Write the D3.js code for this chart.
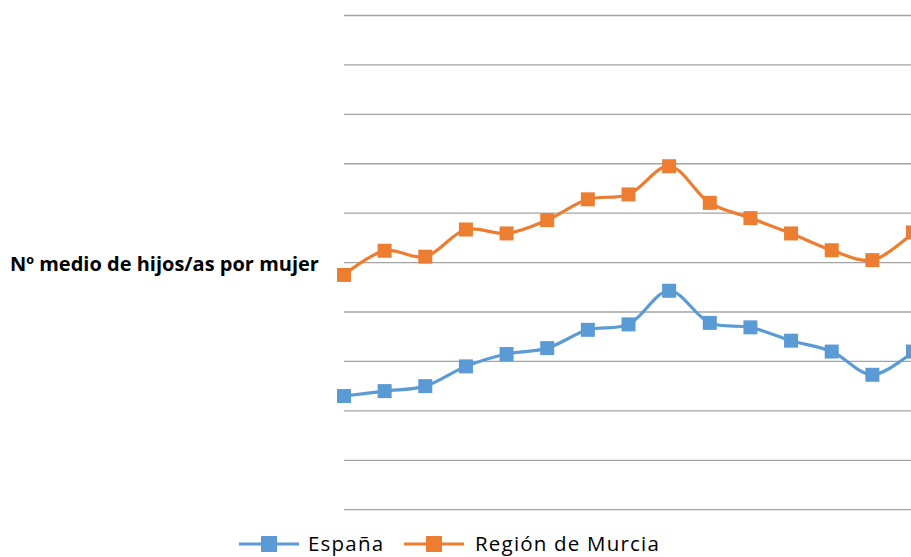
<!DOCTYPE html>
<html>
<head>
<meta charset="utf-8">
<script src="https://cdn.jsdelivr.net/npm/d3@7"></script>
<style>
  body { margin: 0; background: #fff; }
  text { font-family: "Open Sans", "Liberation Sans", sans-serif; }
</style>
</head>
<body>
<div class="chart"></div>
<script>
// years (not shown on the chart, axis labels are hidden)
const years = [2000, 2001, 2002, 2003, 2004, 2005, 2006, 2007, 2008, 2009, 2010, 2011, 2012, 2013, 2014];
// Nº medio de hijos por mujer
const espana = [1.23, 1.24, 1.25, 1.29, 1.315, 1.327, 1.364, 1.375, 1.443, 1.378, 1.369, 1.342, 1.32, 1.273, 1.32];
const murcia = [1.475, 1.524, 1.512, 1.567, 1.559, 1.586, 1.628, 1.638, 1.695, 1.621, 1.59, 1.559, 1.525, 1.505, 1.561];
const yTicks = [1.0, 1.1, 1.2, 1.3, 1.4, 1.5, 1.6, 1.7, 1.8, 1.9, 2.0];

const series = [
  { name: "España", values: espana, color: "#5B9BD5" },
  { name: "Región de Murcia", values: murcia, color: "#ED7D31" }
];

const W = 911, H = 557;
const svg = d3.select(".chart").append("svg")
    .attr("width", W)
    .attr("height", H);

// scales
const x = d3.scalePoint().domain(years).range([344, 913]);
const y = d3.scaleLinear().domain([1.0, 2.0]).range([509.7, 15.5]);

// gridlines
svg.append("g")
  .attr("class", "grid")
  .selectAll("line")
  .data(yTicks)
  .join("line")
    .attr("x1", 344)
    .attr("x2", W)
    .attr("y1", d => y(d))
    .attr("y2", d => y(d))
    .attr("stroke", "#a3a3a3")
    .attr("stroke-width", 1.3);

// lines
const line = d3.line()
  .curve(d3.curveCatmullRom.alpha(0.5))
  .x((d, i) => x(years[i]))
  .y(d => y(d));

series.forEach(s => {
  svg.append("path")
    .datum(s.values)
    .attr("fill", "none")
    .attr("stroke", s.color)
    .attr("stroke-width", 3.2)
    .attr("d", line);

  svg.append("g")
    .selectAll("rect")
    .data(s.values)
    .join("rect")
      .attr("x", (d, i) => x(years[i]) - 7)
      .attr("y", d => y(d) - 7)
      .attr("width", 14)
      .attr("height", 14)
      .attr("fill", s.color);
});

// y axis title
svg.append("text")
  .attr("x", 10)
  .attr("y", 271)
  .style("font-size", "20px")
  .style("font-weight", "bold")
  .attr("fill", "#000")
  .text("Nº medio de hijos/as por mujer");

// legend
const legendItems = [
  { x: 239, textX: 308 },
  { x: 404, textX: 475 }
];
series.forEach((s, i) => {
  const g = svg.append("g");
  const lx = legendItems[i].x;
  g.append("line")
    .attr("x1", lx).attr("x2", lx + 60)
    .attr("y1", 544).attr("y2", 544)
    .attr("stroke", s.color)
    .attr("stroke-width", 3);
  g.append("rect")
    .attr("x", lx + 30 - 8).attr("y", 544 - 8)
    .attr("width", 16).attr("height", 16)
    .attr("fill", s.color);
  g.append("text")
    .attr("x", legendItems[i].textX)
    .attr("y", 551)
    .style("font-size", "20.5px")
    .style("letter-spacing", "1.2px")
    .attr("fill", "#000")
    .text(s.name);
});
</script>
</body>
</html>
